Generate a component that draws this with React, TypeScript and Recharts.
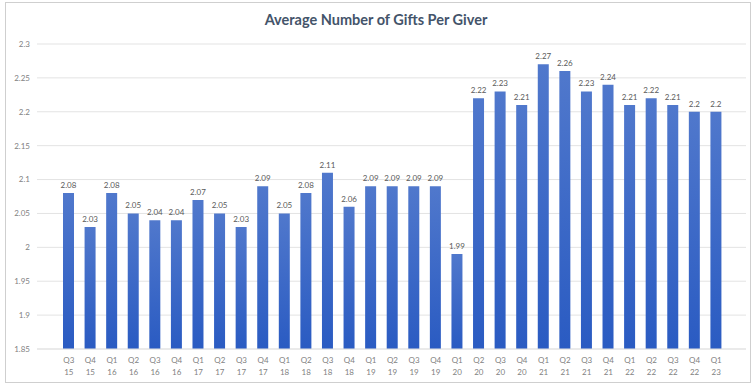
import React from 'react';
import { Bar, BarChart, CartesianGrid, LabelList, XAxis, YAxis } from 'recharts';

// quarter + year, shown on two lines under each bar
const quarters = [
  'Q3', 'Q4', 'Q1', 'Q2', 'Q3', 'Q4', 'Q1', 'Q2', 'Q3', 'Q4', 'Q1', 'Q2', 'Q3', 'Q4', 'Q1', 'Q2',
  'Q3', 'Q4', 'Q1', 'Q2', 'Q3', 'Q4', 'Q1', 'Q2', 'Q3', 'Q4', 'Q1', 'Q2', 'Q3', 'Q4', 'Q1'
];
const years = [
  '15', '15', '16', '16', '16', '16', '17', '17', '17', '17', '18', '18', '18', '18', '19', '19',
  '19', '19', '20', '20', '20', '20', '21', '21', '21', '21', '22', '22', '22', '22', '23'
];
const giftsPerGiver = [
  2.08, 2.03, 2.08, 2.05, 2.04, 2.04, 2.07, 2.05, 2.03, 2.09, 2.05, 2.08, 2.11, 2.06, 2.09, 2.09,
  2.09, 2.09, 1.99, 2.22, 2.23, 2.21, 2.27, 2.26, 2.23, 2.24, 2.21, 2.22, 2.21, 2.2, 2.2
];
const yTicks = [1.85, 1.9, 1.95, 2, 2.05, 2.1, 2.15, 2.2, 2.25, 2.3];

const data = giftsPerGiver.map((v, i) => ({
  label: quarters[i] + ' ' + years[i],
  value: v
}));

const FONT = 'Lato, "Open Sans", sans-serif';

function QuarterTick({ x, y, payload }: any) {
  const [q, yr] = String(payload.value).split(' ');
  return (
    <text x={x} y={y} textAnchor="middle" fontSize={8} fill="#7f7f7f" fontFamily={FONT}>
      <tspan x={x} dy={6}>{q}</tspan>
      <tspan x={x} dy={12}>{yr}</tspan>
    </text>
  );
}

export default function App() {
  return (
    <div style={{ position: 'fixed', left: 0, top: 0, width: 752, height: 384, background: '#fff', fontFamily: FONT }}>
      <div style={{ position: 'absolute', left: 5, top: 2, width: 744, height: 379, border: '1px solid #cfcfcf' }} />
      <div style={{ position: 'absolute', left: 0, top: 11, width: 752, textAlign: 'center', fontSize: 14.5, fontWeight: 700, color: '#44546a' }}>
        Average Number of Gifts Per Giver
      </div>
      <BarChart width={752} height={384} data={data} margin={{ top: 44, right: 6, bottom: 0, left: 0 }}>
        <defs>
          <linearGradient id="barFill" x1="0" y1="0" x2="0" y2="1">
            <stop offset="0%" stopColor="#5078cc" />
            <stop offset="100%" stopColor="#2a5bc2" />
          </linearGradient>
        </defs>
        <CartesianGrid stroke="#e3e3e3" vertical={false} />
        <XAxis
          dataKey="label"
          interval={0}
          height={35}
          tickLine={false}
          axisLine={{ stroke: '#e3e3e3' }}
          padding={{ left: 21, right: 19 }}
          tick={<QuarterTick />}
        />
        <YAxis
          width={37}
          domain={[1.85, 2.3]}
          ticks={yTicks}
          tickLine={false}
          axisLine={false}
          tickMargin={1}
          tick={{ fontSize: 8, fill: '#7f7f7f', fontFamily: FONT }}
          tickFormatter={(v: number) => String(Number(v.toFixed(2)))}
        />
        <Bar dataKey="value" fill="url(#barFill)" barSize={11} isAnimationActive={false}>
          <LabelList dataKey="value" position="top" offset={5} fontSize={8} fill="#595959" fontFamily={FONT} />
        </Bar>
      </BarChart>
    </div>
  );
}
